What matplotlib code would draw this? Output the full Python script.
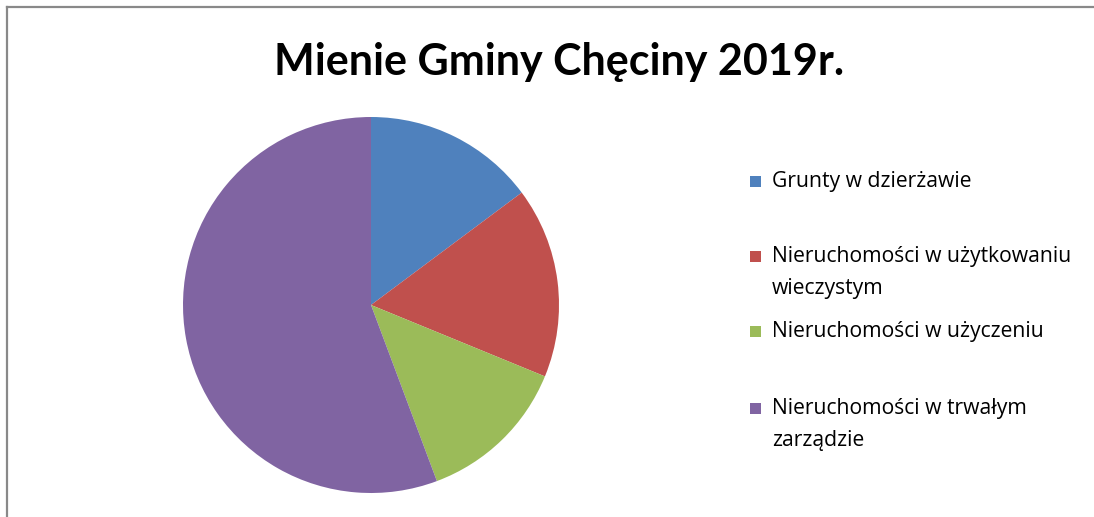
import matplotlib
matplotlib.use("Agg")
import matplotlib.pyplot as plt
from matplotlib.patches import Rectangle
from matplotlib.lines import Line2D

title = "Mienie Gminy Chęciny 2019r."
categories = ["Grunty w dzierżawie",
              "Nieruchomości w użytkowaniu\nwieczystym",
              "Nieruchomości w użyczeniu",
              "Nieruchomości w trwałym\nzarządzie"]
values = [14.8, 16.4, 13.1, 55.7]
colors = ["#4F81BD", "#C0504D", "#9BBB59", "#8064A2"]

W, H = 1094, 517
fig = plt.figure(figsize=(W / 100, H / 100), dpi=100)
fig.patch.set_facecolor("white")

cx, cy, r = 371, 305, 188
ax = fig.add_axes([(cx - r) / W, (H - cy - r) / H, 2 * r / W, 2 * r / H])
ax.pie(values, colors=colors, startangle=90, counterclock=False,
       wedgeprops=dict(linewidth=0))
ax.set_xlim(-1, 1)
ax.set_ylim(-1, 1)
ax.set_aspect("auto")
ax.axis("off")

fig.text(559 / W, 1 - 62 / H, title, ha="center", va="center",
         fontsize=31, fontweight="bold", family=["Lato", "DejaVu Sans"])

legend_y = [181, 256, 331, 408]
for yy, lab, col in zip(legend_y, categories, colors):
    fig.patches.append(Rectangle((750 / W, 1 - (yy + 6) / H), 11 / W, 11 / H,
                                 transform=fig.transFigure, facecolor=col,
                                 edgecolor="none"))
    fig.text(772 / W, 1 - (yy - 10) / H, lab, ha="left", va="top",
             fontsize=15.2, family=["Open Sans", "DejaVu Sans"], color="#000000",
             linespacing=1.68, transform=fig.transFigure)

fig.add_artist(Line2D([7 / W, 7 / W], [0, 1 - 7 / H], transform=fig.transFigure,
                      color="#898989", linewidth=1.6))
fig.add_artist(Line2D([7 / W, 1], [1 - 7 / H, 1 - 7 / H], transform=fig.transFigure,
                      color="#898989", linewidth=1.6))

fig.savefig("out.png", dpi=100, facecolor="white")
